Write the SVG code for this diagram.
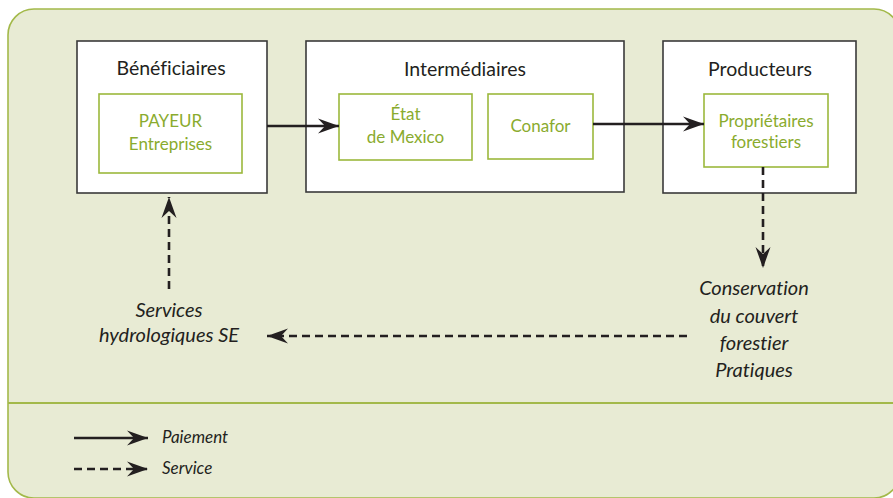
<svg xmlns="http://www.w3.org/2000/svg" width="893" height="498" viewBox="0 0 893 498">
<defs>
<style>
text{font-variant-ligatures:none;font-feature-settings:"liga" 0,"dlig" 0}
.bg{fill:#e8ebd4;stroke:#a3b94a;stroke-width:1.6}
.div{stroke:#a3b94a;stroke-width:1.8}
.outer{fill:#fff;stroke:#3a3a3a;stroke-width:1.6}
.inner{fill:#fff;stroke:#9cb83c;stroke-width:1.6}
.title{font-family:Lato,"Liberation Sans",sans-serif;font-size:19.5px;fill:#231f20;text-anchor:middle}
.green{font-family:Lato,"Liberation Sans",sans-serif;font-size:17px;fill:#8aab2e;text-anchor:middle}
.lab{font-family:Lato,"Liberation Sans",sans-serif;font-style:italic;font-size:20px;fill:#231f20;text-anchor:middle}
.leg{font-family:Lato,"Liberation Sans",sans-serif;font-style:italic;font-size:17px;fill:#231f20}
.pay{stroke:#231f20;stroke-width:2.6;fill:none;marker-end:url(#ah)}
.svc{stroke:#231f20;stroke-width:2.6;fill:none;stroke-dasharray:8 5;marker-end:url(#ah)}
</style>
<marker id="ah" markerUnits="userSpaceOnUse" markerWidth="24" markerHeight="16" viewBox="-22 -8 24 16" refX="0" refY="0" orient="auto">
<path d="M0,0 L-21,-7.5 L-14,0 L-21,7.5 Z" fill="#231f20"/>
</marker>
</defs>
<rect class="bg" x="8" y="9" width="892" height="489" rx="26" ry="26"/>
<line class="div" x1="8" y1="403" x2="893" y2="403"/>

<g id="beneficiaires">
<rect class="outer" x="77" y="41" width="190" height="152"/>
<text class="title" x="171" y="75">Bénéficiaires</text>
<rect class="inner" x="99" y="94" width="143" height="79"/>
<text class="green" x="170.5" y="127">PAYEUR</text>
<text class="green" x="170.5" y="150">Entreprises</text>
</g>

<g id="intermediaires">
<rect class="outer" x="306" y="41" width="318" height="151"/>
<text class="title" x="465" y="76">Intermédiaires</text>
<rect class="inner" x="339" y="94" width="133" height="66"/>
<text class="green" x="405.5" y="120">État</text>
<text class="green" x="405.5" y="143">de Mexico</text>
<rect class="inner" x="488" y="94" width="105" height="65"/>
<text class="green" x="540.5" y="132">Conafor</text>
</g>

<g id="producteurs">
<rect class="outer" x="663" y="41" width="193" height="152"/>
<text class="title" x="760" y="76">Producteurs</text>
<rect class="inner" x="704" y="94" width="124" height="73"/>
<text class="green" x="766" y="127">Propriétaires</text>
<text class="green" x="766" y="148">forestiers</text>
</g>

<g id="services">
<text class="lab" x="169" y="317">Services</text>
<text class="lab" x="169" y="342">hydrologiques SE</text>
</g>

<g id="conservation">
<text class="lab" x="754" y="295">Conservation</text>
<text class="lab" x="754" y="323">du couvert</text>
<text class="lab" x="754" y="350">forestier</text>
<text class="lab" x="754" y="377">Pratiques</text>
</g>

<g id="connectors">
<line class="pay" x1="267" y1="126" x2="339" y2="126"/>
<line class="pay" x1="593" y1="124" x2="704" y2="124"/>
<line class="svc" x1="763" y1="167" x2="763" y2="268"/>
<line class="svc" x1="687" y1="336" x2="267" y2="336"/>
<line class="svc" x1="169" y1="289" x2="169" y2="197"/>
</g>

<g id="legend">
<line class="pay" x1="74" y1="438" x2="148" y2="438"/>
<text class="leg" x="162" y="443">Paiement</text>
<line class="svc" x1="74" y1="469" x2="148" y2="469"/>
<text class="leg" x="162" y="474">Service</text>
</g>
</svg>
